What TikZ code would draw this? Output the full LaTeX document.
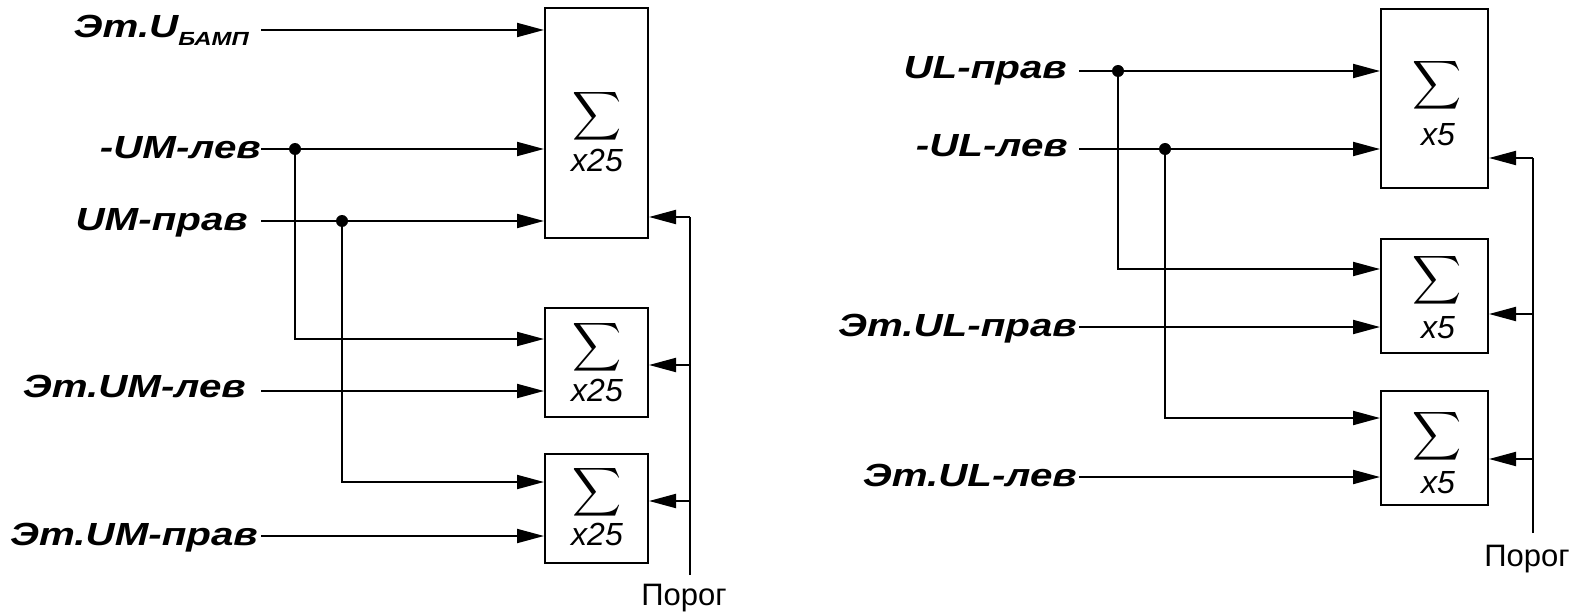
\documentclass[tikz,border=0pt]{standalone}
\usepackage{fontspec}
\setmainfont{Liberation Sans}
\newfontfamily\lblfont{Liberation Sans}[FakeStretch=1.26]
\usetikzlibrary{arrows.meta}
\tikzset{
 sbox/.style={draw, line width=2pt, inner sep=0pt, minimum width=103pt},
 lbl/.style={anchor=base east, inner sep=0pt, font=\lblfont\fontsize{32}{38}\selectfont\bfseries\itshape},
 mult/.style={anchor=base, inner sep=0pt, font=\fontsize{32}{38}\selectfont\itshape},
 sig/.style={inner sep=0pt},
 wire/.style={line width=2pt},
 arr/.style={wire, -{Triangle[length=27pt,width=14pt]}},
 jdot/.style={fill, circle, minimum size=12pt, inner sep=0pt},
 thr/.style={anchor=base, inner sep=0pt, font=\fontsize{31}{36}\selectfont},
}
\newcommand{\sigm}{\scalebox{3.4}{$\displaystyle\sum$}}
\begin{document}
\begin{tikzpicture}[x=1pt,y=-1pt]
\useasboundingbox[fill=white] (0,0) rectangle (1585,615);
% ---------- left group ----------
\node[sbox, minimum height=230pt] (B1) at (596.5,123) {};
\node[sbox, minimum height=109pt] (B2) at (596.5,362.5) {};
\node[sbox, minimum height=109pt] (B3) at (596.5,508.5) {};
\node[sig] (S1) at (597,116) {\sigm};
\node[sig] (S2) at (597,347) {\sigm};
\node[sig] (S3) at (597,492) {\sigm};
\node[mult] (M1) at (597,171.5) {x25};
\node[mult] (M2) at (597,401.5) {x25};
\node[mult] (M3) at (597,545.5) {x25};

\node[lbl] (L1) at (249,38) {Эт.U\raisebox{-8pt}{\fontsize{19}{22}\selectfont БАМП}};
\node[lbl] (L2) at (261,158) {-UM-лев};
\node[lbl] (L3) at (248,230) {UM-прав};
\node[lbl] (L4) at (246,397) {Эт.UM-лев};
\node[lbl] (L5) at (258,545) {Эт.UM-прав};

\coordinate (a1) at (261,30);
\coordinate (a2) at (261,149);
\coordinate (a3) at (261,221);
\coordinate (a4) at (261,391);
\coordinate (a5) at (261,536);
\coordinate (j1) at (295,149);
\coordinate (j2) at (342,221);
\coordinate (y21) at (0,339);
\coordinate (y31) at (0,482);
\draw[arr] (a1) -- (a1 -| B1.west);
\draw[arr] (a2) -- (a2 -| B1.west);
\draw[arr] (a3) -- (a3 -| B1.west);
\draw[arr] (a4) -- (a4 -| B2.west);
\draw[arr] (a5) -- (a5 -| B3.west);
\draw[arr] (j1) |- (y21 -| B2.west);
\draw[arr] (j2) |- (y31 -| B3.west);
\node[jdot] at (j1) {};
\node[jdot] at (j2) {};

\coordinate (p1) at (690,575);
\coordinate (t1) at (0,217);
\coordinate (t2) at (0,365);
\coordinate (t3) at (0,501);
\draw[wire] (p1) -- (p1 |- t1);
\draw[arr] (p1 |- t1) -- (t1 -| B1.east);
\draw[arr] (p1 |- t2) -- (t2 -| B2.east);
\draw[arr] (p1 |- t3) -- (t3 -| B3.east);
\node[thr] (P1) at (684,605) {Порог};

% ---------- right group ----------
\node[sbox, minimum width=107pt, minimum height=179pt] (R1) at (1434.5,98.5) {};
\node[sbox, minimum width=107pt, minimum height=114pt] (R2) at (1434.5,296) {};
\node[sbox, minimum width=107pt, minimum height=114pt] (R3) at (1434.5,448) {};
\node[sig] (T1) at (1437,85) {\sigm};
\node[sig] (T2) at (1437,280) {\sigm};
\node[sig] (T3) at (1437,436) {\sigm};
\node[mult] (N1) at (1438,145.5) {x5};
\node[mult] (N2) at (1438,338.5) {x5};
\node[mult] (N3) at (1438,493.5) {x5};

\node[lbl] (K1) at (1067,79) {UL-прав};
\node[lbl] (K2) at (1068,157) {-UL-лев};
\node[lbl] (K3) at (1077,336) {Эт.UL-прав};
\node[lbl] (K4) at (1077,486) {Эт.UL-лев};

\coordinate (c1) at (1079,71);
\coordinate (c2) at (1079,149);
\coordinate (c3) at (1079,327);
\coordinate (c4) at (1079,477);
\coordinate (k1) at (1118,71);
\coordinate (k2) at (1165,149);
\coordinate (z21) at (0,269);
\coordinate (z31) at (0,418);
\draw[arr] (c1) -- (c1 -| R1.west);
\draw[arr] (c2) -- (c2 -| R1.west);
\draw[arr] (c3) -- (c3 -| R2.west);
\draw[arr] (c4) -- (c4 -| R3.west);
\draw[arr] (k1) |- (z21 -| R2.west);
\draw[arr] (k2) |- (z31 -| R3.west);
\node[jdot] at (k1) {};
\node[jdot] at (k2) {};

\coordinate (p2) at (1533,533);
\coordinate (u1) at (0,158);
\coordinate (u2) at (0,314);
\coordinate (u3) at (0,459);
\draw[wire] (p2) -- (p2 |- u1);
\draw[arr] (p2 |- u1) -- (u1 -| R1.east);
\draw[arr] (p2 |- u2) -- (u2 -| R2.east);
\draw[arr] (p2 |- u3) -- (u3 -| R3.east);
\node[thr] (P2) at (1527,566) {Порог};
\end{tikzpicture}
\end{document}
